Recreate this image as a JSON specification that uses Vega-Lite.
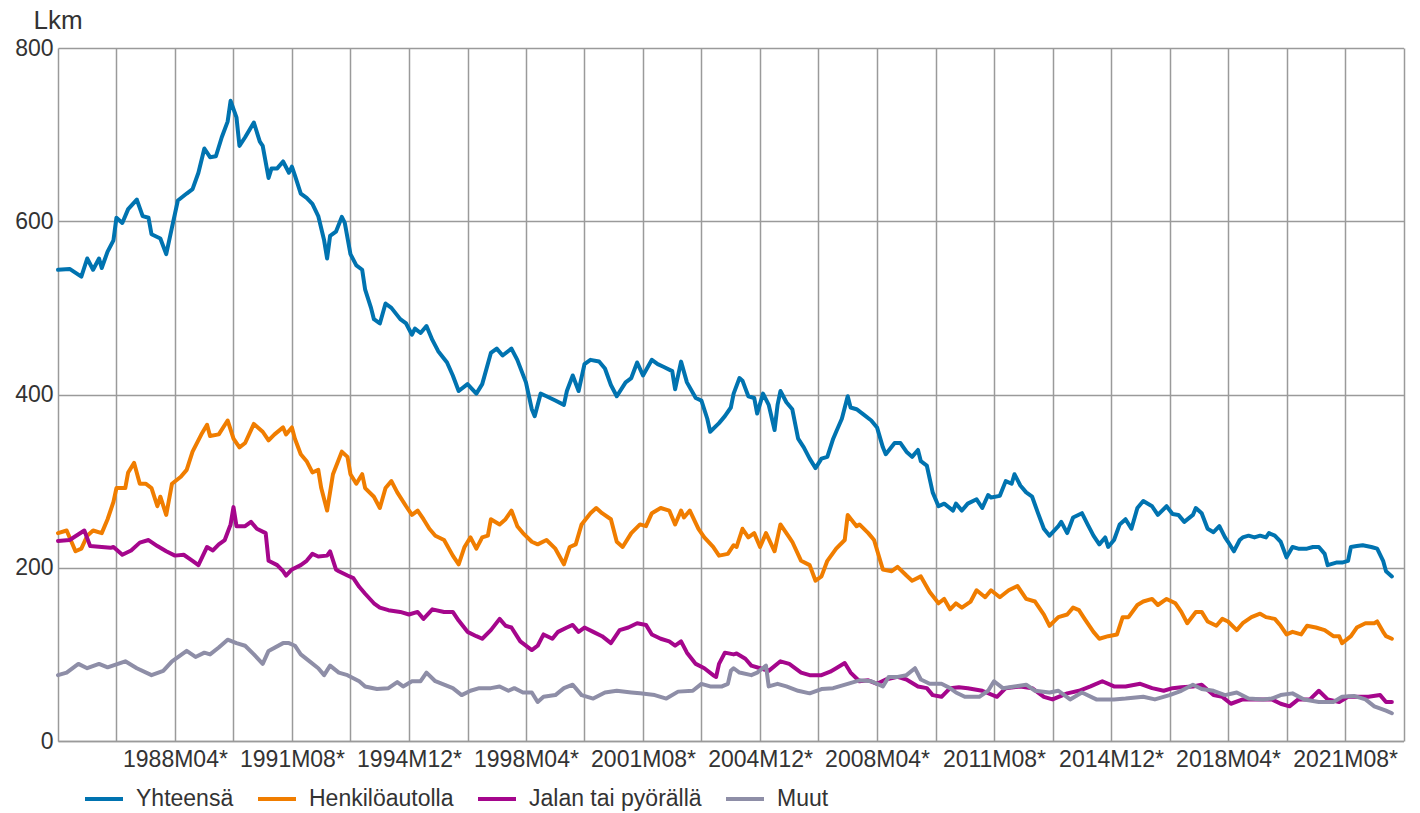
{
"$schema": "https://vega.github.io/schema/vega-lite/v6.json",
"width": 1345.5,
"height": 693,
"autosize": {"type": "none"},
"padding": {"left": 58, "top": 48, "right": 16, "bottom": 72},
"background": "white",
"data": {"values": [
{"kk":"1984-12","sarja":"Yhteensä","lkm":544},{"kk":"1985-04","sarja":"Yhteensä","lkm":545},{"kk":"1985-08","sarja":"Yhteensä","lkm":536},{"kk":"1985-10","sarja":"Yhteensä","lkm":557},{"kk":"1985-12","sarja":"Yhteensä","lkm":544},{"kk":"1986-02","sarja":"Yhteensä","lkm":557},{"kk":"1986-03","sarja":"Yhteensä","lkm":546},{"kk":"1986-05","sarja":"Yhteensä","lkm":565},{"kk":"1986-07","sarja":"Yhteensä","lkm":578},{"kk":"1986-08","sarja":"Yhteensä","lkm":604},{"kk":"1986-10","sarja":"Yhteensä","lkm":598},{"kk":"1986-12","sarja":"Yhteensä","lkm":614},{"kk":"1987-03","sarja":"Yhteensä","lkm":625},{"kk":"1987-05","sarja":"Yhteensä","lkm":606},{"kk":"1987-07","sarja":"Yhteensä","lkm":604},{"kk":"1987-08","sarja":"Yhteensä","lkm":585},{"kk":"1987-11","sarja":"Yhteensä","lkm":580},{"kk":"1988-01","sarja":"Yhteensä","lkm":562},{"kk":"1988-03","sarja":"Yhteensä","lkm":593},{"kk":"1988-05","sarja":"Yhteensä","lkm":624},{"kk":"1988-08","sarja":"Yhteensä","lkm":632},{"kk":"1988-10","sarja":"Yhteensä","lkm":637},{"kk":"1988-12","sarja":"Yhteensä","lkm":656},{"kk":"1989-02","sarja":"Yhteensä","lkm":684},{"kk":"1989-04","sarja":"Yhteensä","lkm":674},{"kk":"1989-06","sarja":"Yhteensä","lkm":675},{"kk":"1989-08","sarja":"Yhteensä","lkm":697},{"kk":"1989-10","sarja":"Yhteensä","lkm":715},{"kk":"1989-11","sarja":"Yhteensä","lkm":739},{"kk":"1990-01","sarja":"Yhteensä","lkm":720},{"kk":"1990-02","sarja":"Yhteensä","lkm":687},{"kk":"1990-04","sarja":"Yhteensä","lkm":697},{"kk":"1990-07","sarja":"Yhteensä","lkm":714},{"kk":"1990-09","sarja":"Yhteensä","lkm":692},{"kk":"1990-10","sarja":"Yhteensä","lkm":687},{"kk":"1990-12","sarja":"Yhteensä","lkm":650},{"kk":"1991-01","sarja":"Yhteensä","lkm":661},{"kk":"1991-03","sarja":"Yhteensä","lkm":661},{"kk":"1991-05","sarja":"Yhteensä","lkm":669},{"kk":"1991-07","sarja":"Yhteensä","lkm":656},{"kk":"1991-08","sarja":"Yhteensä","lkm":663},{"kk":"1991-09","sarja":"Yhteensä","lkm":653},{"kk":"1991-11","sarja":"Yhteensä","lkm":632},{"kk":"1992-01","sarja":"Yhteensä","lkm":627},{"kk":"1992-03","sarja":"Yhteensä","lkm":620},{"kk":"1992-05","sarja":"Yhteensä","lkm":606},{"kk":"1992-07","sarja":"Yhteensä","lkm":578},{"kk":"1992-08","sarja":"Yhteensä","lkm":557},{"kk":"1992-09","sarja":"Yhteensä","lkm":583},{"kk":"1992-11","sarja":"Yhteensä","lkm":588},{"kk":"1993-01","sarja":"Yhteensä","lkm":605},{"kk":"1993-02","sarja":"Yhteensä","lkm":598},{"kk":"1993-04","sarja":"Yhteensä","lkm":562},{"kk":"1993-06","sarja":"Yhteensä","lkm":549},{"kk":"1993-08","sarja":"Yhteensä","lkm":544},{"kk":"1993-09","sarja":"Yhteensä","lkm":521},{"kk":"1993-11","sarja":"Yhteensä","lkm":500},{"kk":"1993-12","sarja":"Yhteensä","lkm":487},{"kk":"1994-02","sarja":"Yhteensä","lkm":482},{"kk":"1994-04","sarja":"Yhteensä","lkm":505},{"kk":"1994-06","sarja":"Yhteensä","lkm":500},{"kk":"1994-09","sarja":"Yhteensä","lkm":487},{"kk":"1994-11","sarja":"Yhteensä","lkm":482},{"kk":"1995-01","sarja":"Yhteensä","lkm":469},{"kk":"1995-02","sarja":"Yhteensä","lkm":476},{"kk":"1995-04","sarja":"Yhteensä","lkm":471},{"kk":"1995-06","sarja":"Yhteensä","lkm":479},{"kk":"1995-08","sarja":"Yhteensä","lkm":463},{"kk":"1995-10","sarja":"Yhteensä","lkm":450},{"kk":"1996-01","sarja":"Yhteensä","lkm":437},{"kk":"1996-03","sarja":"Yhteensä","lkm":422},{"kk":"1996-05","sarja":"Yhteensä","lkm":404},{"kk":"1996-08","sarja":"Yhteensä","lkm":412},{"kk":"1996-11","sarja":"Yhteensä","lkm":401},{"kk":"1997-01","sarja":"Yhteensä","lkm":412},{"kk":"1997-04","sarja":"Yhteensä","lkm":448},{"kk":"1997-06","sarja":"Yhteensä","lkm":453},{"kk":"1997-08","sarja":"Yhteensä","lkm":445},{"kk":"1997-11","sarja":"Yhteensä","lkm":453},{"kk":"1998-01","sarja":"Yhteensä","lkm":440},{"kk":"1998-04","sarja":"Yhteensä","lkm":414},{"kk":"1998-06","sarja":"Yhteensä","lkm":383},{"kk":"1998-07","sarja":"Yhteensä","lkm":375},{"kk":"1998-09","sarja":"Yhteensä","lkm":401},{"kk":"1998-11","sarja":"Yhteensä","lkm":398},{"kk":"1999-02","sarja":"Yhteensä","lkm":393},{"kk":"1999-05","sarja":"Yhteensä","lkm":388},{"kk":"1999-06","sarja":"Yhteensä","lkm":404},{"kk":"1999-08","sarja":"Yhteensä","lkm":422},{"kk":"1999-10","sarja":"Yhteensä","lkm":404},{"kk":"1999-12","sarja":"Yhteensä","lkm":435},{"kk":"2000-02","sarja":"Yhteensä","lkm":440},{"kk":"2000-05","sarja":"Yhteensä","lkm":438},{"kk":"2000-07","sarja":"Yhteensä","lkm":430},{"kk":"2000-09","sarja":"Yhteensä","lkm":411},{"kk":"2000-11","sarja":"Yhteensä","lkm":398},{"kk":"2001-02","sarja":"Yhteensä","lkm":414},{"kk":"2001-04","sarja":"Yhteensä","lkm":419},{"kk":"2001-06","sarja":"Yhteensä","lkm":437},{"kk":"2001-08","sarja":"Yhteensä","lkm":422},{"kk":"2001-11","sarja":"Yhteensä","lkm":440},{"kk":"2002-01","sarja":"Yhteensä","lkm":435},{"kk":"2002-03","sarja":"Yhteensä","lkm":432},{"kk":"2002-06","sarja":"Yhteensä","lkm":427},{"kk":"2002-07","sarja":"Yhteensä","lkm":406},{"kk":"2002-09","sarja":"Yhteensä","lkm":438},{"kk":"2002-11","sarja":"Yhteensä","lkm":414},{"kk":"2003-02","sarja":"Yhteensä","lkm":396},{"kk":"2003-04","sarja":"Yhteensä","lkm":393},{"kk":"2003-06","sarja":"Yhteensä","lkm":372},{"kk":"2003-07","sarja":"Yhteensä","lkm":357},{"kk":"2003-10","sarja":"Yhteensä","lkm":367},{"kk":"2003-12","sarja":"Yhteensä","lkm":375},{"kk":"2004-02","sarja":"Yhteensä","lkm":385},{"kk":"2004-03","sarja":"Yhteensä","lkm":401},{"kk":"2004-05","sarja":"Yhteensä","lkm":419},{"kk":"2004-06","sarja":"Yhteensä","lkm":416},{"kk":"2004-08","sarja":"Yhteensä","lkm":398},{"kk":"2004-10","sarja":"Yhteensä","lkm":396},{"kk":"2004-11","sarja":"Yhteensä","lkm":378},{"kk":"2005-01","sarja":"Yhteensä","lkm":401},{"kk":"2005-03","sarja":"Yhteensä","lkm":388},{"kk":"2005-05","sarja":"Yhteensä","lkm":359},{"kk":"2005-06","sarja":"Yhteensä","lkm":388},{"kk":"2005-07","sarja":"Yhteensä","lkm":404},{"kk":"2005-09","sarja":"Yhteensä","lkm":391},{"kk":"2005-11","sarja":"Yhteensä","lkm":383},{"kk":"2006-01","sarja":"Yhteensä","lkm":349},{"kk":"2006-03","sarja":"Yhteensä","lkm":339},{"kk":"2006-05","sarja":"Yhteensä","lkm":326},{"kk":"2006-07","sarja":"Yhteensä","lkm":315},{"kk":"2006-09","sarja":"Yhteensä","lkm":326},{"kk":"2006-11","sarja":"Yhteensä","lkm":328},{"kk":"2007-01","sarja":"Yhteensä","lkm":349},{"kk":"2007-02","sarja":"Yhteensä","lkm":357},{"kk":"2007-04","sarja":"Yhteensä","lkm":372},{"kk":"2007-06","sarja":"Yhteensä","lkm":398},{"kk":"2007-07","sarja":"Yhteensä","lkm":385},{"kk":"2007-09","sarja":"Yhteensä","lkm":383},{"kk":"2007-11","sarja":"Yhteensä","lkm":378},{"kk":"2008-02","sarja":"Yhteensä","lkm":370},{"kk":"2008-04","sarja":"Yhteensä","lkm":362},{"kk":"2008-06","sarja":"Yhteensä","lkm":339},{"kk":"2008-07","sarja":"Yhteensä","lkm":331},{"kk":"2008-10","sarja":"Yhteensä","lkm":344},{"kk":"2008-12","sarja":"Yhteensä","lkm":344},{"kk":"2009-02","sarja":"Yhteensä","lkm":334},{"kk":"2009-04","sarja":"Yhteensä","lkm":328},{"kk":"2009-06","sarja":"Yhteensä","lkm":336},{"kk":"2009-07","sarja":"Yhteensä","lkm":323},{"kk":"2009-09","sarja":"Yhteensä","lkm":318},{"kk":"2009-11","sarja":"Yhteensä","lkm":287},{"kk":"2010-01","sarja":"Yhteensä","lkm":271},{"kk":"2010-03","sarja":"Yhteensä","lkm":274},{"kk":"2010-06","sarja":"Yhteensä","lkm":266},{"kk":"2010-07","sarja":"Yhteensä","lkm":274},{"kk":"2010-09","sarja":"Yhteensä","lkm":266},{"kk":"2010-11","sarja":"Yhteensä","lkm":274},{"kk":"2011-02","sarja":"Yhteensä","lkm":279},{"kk":"2011-04","sarja":"Yhteensä","lkm":269},{"kk":"2011-06","sarja":"Yhteensä","lkm":284},{"kk":"2011-07","sarja":"Yhteensä","lkm":281},{"kk":"2011-10","sarja":"Yhteensä","lkm":283},{"kk":"2011-12","sarja":"Yhteensä","lkm":300},{"kk":"2012-02","sarja":"Yhteensä","lkm":297},{"kk":"2012-03","sarja":"Yhteensä","lkm":308},{"kk":"2012-05","sarja":"Yhteensä","lkm":295},{"kk":"2012-07","sarja":"Yhteensä","lkm":287},{"kk":"2012-09","sarja":"Yhteensä","lkm":282},{"kk":"2012-11","sarja":"Yhteensä","lkm":263},{"kk":"2013-01","sarja":"Yhteensä","lkm":245},{"kk":"2013-03","sarja":"Yhteensä","lkm":237},{"kk":"2013-06","sarja":"Yhteensä","lkm":248},{"kk":"2013-07","sarja":"Yhteensä","lkm":253},{"kk":"2013-09","sarja":"Yhteensä","lkm":240},{"kk":"2013-11","sarja":"Yhteensä","lkm":258},{"kk":"2014-02","sarja":"Yhteensä","lkm":263},{"kk":"2014-04","sarja":"Yhteensä","lkm":250},{"kk":"2014-06","sarja":"Yhteensä","lkm":237},{"kk":"2014-08","sarja":"Yhteensä","lkm":227},{"kk":"2014-10","sarja":"Yhteensä","lkm":235},{"kk":"2014-11","sarja":"Yhteensä","lkm":224},{"kk":"2015-01","sarja":"Yhteensä","lkm":232},{"kk":"2015-03","sarja":"Yhteensä","lkm":250},{"kk":"2015-05","sarja":"Yhteensä","lkm":256},{"kk":"2015-07","sarja":"Yhteensä","lkm":245},{"kk":"2015-09","sarja":"Yhteensä","lkm":269},{"kk":"2015-11","sarja":"Yhteensä","lkm":277},{"kk":"2016-02","sarja":"Yhteensä","lkm":271},{"kk":"2016-04","sarja":"Yhteensä","lkm":261},{"kk":"2016-07","sarja":"Yhteensä","lkm":271},{"kk":"2016-09","sarja":"Yhteensä","lkm":262},{"kk":"2016-11","sarja":"Yhteensä","lkm":261},{"kk":"2017-01","sarja":"Yhteensä","lkm":253},{"kk":"2017-04","sarja":"Yhteensä","lkm":261},{"kk":"2017-05","sarja":"Yhteensä","lkm":269},{"kk":"2017-07","sarja":"Yhteensä","lkm":263},{"kk":"2017-09","sarja":"Yhteensä","lkm":245},{"kk":"2017-11","sarja":"Yhteensä","lkm":241},{"kk":"2018-01","sarja":"Yhteensä","lkm":248},{"kk":"2018-03","sarja":"Yhteensä","lkm":235},{"kk":"2018-04","sarja":"Yhteensä","lkm":230},{"kk":"2018-06","sarja":"Yhteensä","lkm":219},{"kk":"2018-08","sarja":"Yhteensä","lkm":232},{"kk":"2018-09","sarja":"Yhteensä","lkm":235},{"kk":"2018-11","sarja":"Yhteensä","lkm":237},{"kk":"2019-01","sarja":"Yhteensä","lkm":235},{"kk":"2019-03","sarja":"Yhteensä","lkm":237},{"kk":"2019-05","sarja":"Yhteensä","lkm":235},{"kk":"2019-06","sarja":"Yhteensä","lkm":240},{"kk":"2019-08","sarja":"Yhteensä","lkm":237},{"kk":"2019-10","sarja":"Yhteensä","lkm":230},{"kk":"2019-12","sarja":"Yhteensä","lkm":212},{"kk":"2020-02","sarja":"Yhteensä","lkm":224},{"kk":"2020-04","sarja":"Yhteensä","lkm":222},{"kk":"2020-07","sarja":"Yhteensä","lkm":222},{"kk":"2020-09","sarja":"Yhteensä","lkm":224},{"kk":"2020-11","sarja":"Yhteensä","lkm":224},{"kk":"2021-01","sarja":"Yhteensä","lkm":216},{"kk":"2021-02","sarja":"Yhteensä","lkm":203},{"kk":"2021-05","sarja":"Yhteensä","lkm":206},{"kk":"2021-07","sarja":"Yhteensä","lkm":206},{"kk":"2021-09","sarja":"Yhteensä","lkm":208},{"kk":"2021-10","sarja":"Yhteensä","lkm":224},{"kk":"2021-12","sarja":"Yhteensä","lkm":225},{"kk":"2022-02","sarja":"Yhteensä","lkm":226},{"kk":"2022-05","sarja":"Yhteensä","lkm":224},{"kk":"2022-07","sarja":"Yhteensä","lkm":222},{"kk":"2022-09","sarja":"Yhteensä","lkm":208},{"kk":"2022-10","sarja":"Yhteensä","lkm":196},{"kk":"2022-12","sarja":"Yhteensä","lkm":190},
{"kk":"1984-12","sarja":"Henkilöautolla","lkm":240},{"kk":"1985-03","sarja":"Henkilöautolla","lkm":243},{"kk":"1985-06","sarja":"Henkilöautolla","lkm":219},{"kk":"1985-08","sarja":"Henkilöautolla","lkm":222},{"kk":"1985-10","sarja":"Henkilöautolla","lkm":237},{"kk":"1985-12","sarja":"Henkilöautolla","lkm":243},{"kk":"1986-03","sarja":"Henkilöautolla","lkm":240},{"kk":"1986-05","sarja":"Henkilöautolla","lkm":256},{"kk":"1986-07","sarja":"Henkilöautolla","lkm":276},{"kk":"1986-08","sarja":"Henkilöautolla","lkm":292},{"kk":"1986-11","sarja":"Henkilöautolla","lkm":292},{"kk":"1986-12","sarja":"Henkilöautolla","lkm":310},{"kk":"1987-02","sarja":"Henkilöautolla","lkm":321},{"kk":"1987-04","sarja":"Henkilöautolla","lkm":297},{"kk":"1987-06","sarja":"Henkilöautolla","lkm":297},{"kk":"1987-08","sarja":"Henkilöautolla","lkm":292},{"kk":"1987-10","sarja":"Henkilöautolla","lkm":271},{"kk":"1987-11","sarja":"Henkilöautolla","lkm":282},{"kk":"1988-01","sarja":"Henkilöautolla","lkm":261},{"kk":"1988-03","sarja":"Henkilöautolla","lkm":297},{"kk":"1988-06","sarja":"Henkilöautolla","lkm":305},{"kk":"1988-08","sarja":"Henkilöautolla","lkm":313},{"kk":"1988-10","sarja":"Henkilöautolla","lkm":334},{"kk":"1989-01","sarja":"Henkilöautolla","lkm":354},{"kk":"1989-03","sarja":"Henkilöautolla","lkm":365},{"kk":"1989-04","sarja":"Henkilöautolla","lkm":352},{"kk":"1989-07","sarja":"Henkilöautolla","lkm":354},{"kk":"1989-10","sarja":"Henkilöautolla","lkm":370},{"kk":"1989-12","sarja":"Henkilöautolla","lkm":349},{"kk":"1990-02","sarja":"Henkilöautolla","lkm":339},{"kk":"1990-04","sarja":"Henkilöautolla","lkm":344},{"kk":"1990-07","sarja":"Henkilöautolla","lkm":366},{"kk":"1990-10","sarja":"Henkilöautolla","lkm":357},{"kk":"1990-12","sarja":"Henkilöautolla","lkm":347},{"kk":"1991-02","sarja":"Henkilöautolla","lkm":354},{"kk":"1991-05","sarja":"Henkilöautolla","lkm":362},{"kk":"1991-06","sarja":"Henkilöautolla","lkm":354},{"kk":"1991-08","sarja":"Henkilöautolla","lkm":362},{"kk":"1991-09","sarja":"Henkilöautolla","lkm":349},{"kk":"1991-11","sarja":"Henkilöautolla","lkm":331},{"kk":"1992-01","sarja":"Henkilöautolla","lkm":323},{"kk":"1992-03","sarja":"Henkilöautolla","lkm":310},{"kk":"1992-05","sarja":"Henkilöautolla","lkm":313},{"kk":"1992-06","sarja":"Henkilöautolla","lkm":292},{"kk":"1992-08","sarja":"Henkilöautolla","lkm":266},{"kk":"1992-10","sarja":"Henkilöautolla","lkm":308},{"kk":"1993-01","sarja":"Henkilöautolla","lkm":334},{"kk":"1993-03","sarja":"Henkilöautolla","lkm":328},{"kk":"1993-04","sarja":"Henkilöautolla","lkm":308},{"kk":"1993-06","sarja":"Henkilöautolla","lkm":297},{"kk":"1993-08","sarja":"Henkilöautolla","lkm":308},{"kk":"1993-09","sarja":"Henkilöautolla","lkm":292},{"kk":"1993-12","sarja":"Henkilöautolla","lkm":282},{"kk":"1994-02","sarja":"Henkilöautolla","lkm":269},{"kk":"1994-04","sarja":"Henkilöautolla","lkm":292},{"kk":"1994-06","sarja":"Henkilöautolla","lkm":300},{"kk":"1994-08","sarja":"Henkilöautolla","lkm":287},{"kk":"1994-11","sarja":"Henkilöautolla","lkm":271},{"kk":"1995-01","sarja":"Henkilöautolla","lkm":261},{"kk":"1995-03","sarja":"Henkilöautolla","lkm":266},{"kk":"1995-05","sarja":"Henkilöautolla","lkm":256},{"kk":"1995-07","sarja":"Henkilöautolla","lkm":245},{"kk":"1995-09","sarja":"Henkilöautolla","lkm":237},{"kk":"1995-12","sarja":"Henkilöautolla","lkm":232},{"kk":"1996-03","sarja":"Henkilöautolla","lkm":214},{"kk":"1996-05","sarja":"Henkilöautolla","lkm":204},{"kk":"1996-07","sarja":"Henkilöautolla","lkm":224},{"kk":"1996-09","sarja":"Henkilöautolla","lkm":235},{"kk":"1996-11","sarja":"Henkilöautolla","lkm":222},{"kk":"1997-01","sarja":"Henkilöautolla","lkm":235},{"kk":"1997-03","sarja":"Henkilöautolla","lkm":237},{"kk":"1997-04","sarja":"Henkilöautolla","lkm":256},{"kk":"1997-07","sarja":"Henkilöautolla","lkm":250},{"kk":"1997-09","sarja":"Henkilöautolla","lkm":256},{"kk":"1997-11","sarja":"Henkilöautolla","lkm":266},{"kk":"1998-01","sarja":"Henkilöautolla","lkm":248},{"kk":"1998-03","sarja":"Henkilöautolla","lkm":240},{"kk":"1998-06","sarja":"Henkilöautolla","lkm":230},{"kk":"1998-08","sarja":"Henkilöautolla","lkm":227},{"kk":"1998-11","sarja":"Henkilöautolla","lkm":232},{"kk":"1999-02","sarja":"Henkilöautolla","lkm":222},{"kk":"1999-05","sarja":"Henkilöautolla","lkm":204},{"kk":"1999-07","sarja":"Henkilöautolla","lkm":224},{"kk":"1999-09","sarja":"Henkilöautolla","lkm":227},{"kk":"1999-11","sarja":"Henkilöautolla","lkm":250},{"kk":"2000-02","sarja":"Henkilöautolla","lkm":263},{"kk":"2000-04","sarja":"Henkilöautolla","lkm":269},{"kk":"2000-06","sarja":"Henkilöautolla","lkm":263},{"kk":"2000-09","sarja":"Henkilöautolla","lkm":256},{"kk":"2000-11","sarja":"Henkilöautolla","lkm":230},{"kk":"2001-01","sarja":"Henkilöautolla","lkm":224},{"kk":"2001-04","sarja":"Henkilöautolla","lkm":240},{"kk":"2001-07","sarja":"Henkilöautolla","lkm":250},{"kk":"2001-09","sarja":"Henkilöautolla","lkm":248},{"kk":"2001-11","sarja":"Henkilöautolla","lkm":263},{"kk":"2002-02","sarja":"Henkilöautolla","lkm":269},{"kk":"2002-05","sarja":"Henkilöautolla","lkm":266},{"kk":"2002-07","sarja":"Henkilöautolla","lkm":250},{"kk":"2002-09","sarja":"Henkilöautolla","lkm":266},{"kk":"2002-10","sarja":"Henkilöautolla","lkm":258},{"kk":"2002-12","sarja":"Henkilöautolla","lkm":266},{"kk":"2003-03","sarja":"Henkilöautolla","lkm":245},{"kk":"2003-05","sarja":"Henkilöautolla","lkm":235},{"kk":"2003-08","sarja":"Henkilöautolla","lkm":224},{"kk":"2003-10","sarja":"Henkilöautolla","lkm":214},{"kk":"2004-01","sarja":"Henkilöautolla","lkm":216},{"kk":"2004-03","sarja":"Henkilöautolla","lkm":226},{"kk":"2004-04","sarja":"Henkilöautolla","lkm":224},{"kk":"2004-06","sarja":"Henkilöautolla","lkm":245},{"kk":"2004-08","sarja":"Henkilöautolla","lkm":235},{"kk":"2004-10","sarja":"Henkilöautolla","lkm":240},{"kk":"2004-12","sarja":"Henkilöautolla","lkm":224},{"kk":"2005-02","sarja":"Henkilöautolla","lkm":240},{"kk":"2005-05","sarja":"Henkilöautolla","lkm":219},{"kk":"2005-07","sarja":"Henkilöautolla","lkm":250},{"kk":"2005-10","sarja":"Henkilöautolla","lkm":235},{"kk":"2005-11","sarja":"Henkilöautolla","lkm":230},{"kk":"2006-02","sarja":"Henkilöautolla","lkm":208},{"kk":"2006-05","sarja":"Henkilöautolla","lkm":203},{"kk":"2006-07","sarja":"Henkilöautolla","lkm":185},{"kk":"2006-09","sarja":"Henkilöautolla","lkm":190},{"kk":"2006-11","sarja":"Henkilöautolla","lkm":208},{"kk":"2007-02","sarja":"Henkilöautolla","lkm":222},{"kk":"2007-05","sarja":"Henkilöautolla","lkm":232},{"kk":"2007-06","sarja":"Henkilöautolla","lkm":261},{"kk":"2007-09","sarja":"Henkilöautolla","lkm":248},{"kk":"2007-10","sarja":"Henkilöautolla","lkm":250},{"kk":"2008-01","sarja":"Henkilöautolla","lkm":240},{"kk":"2008-03","sarja":"Henkilöautolla","lkm":232},{"kk":"2008-06","sarja":"Henkilöautolla","lkm":198},{"kk":"2008-09","sarja":"Henkilöautolla","lkm":196},{"kk":"2008-11","sarja":"Henkilöautolla","lkm":201},{"kk":"2009-02","sarja":"Henkilöautolla","lkm":191},{"kk":"2009-04","sarja":"Henkilöautolla","lkm":185},{"kk":"2009-07","sarja":"Henkilöautolla","lkm":190},{"kk":"2009-10","sarja":"Henkilöautolla","lkm":172},{"kk":"2010-01","sarja":"Henkilöautolla","lkm":159},{"kk":"2010-03","sarja":"Henkilöautolla","lkm":164},{"kk":"2010-05","sarja":"Henkilöautolla","lkm":152},{"kk":"2010-07","sarja":"Henkilöautolla","lkm":159},{"kk":"2010-09","sarja":"Henkilöautolla","lkm":154},{"kk":"2010-12","sarja":"Henkilöautolla","lkm":161},{"kk":"2011-02","sarja":"Henkilöautolla","lkm":174},{"kk":"2011-05","sarja":"Henkilöautolla","lkm":166},{"kk":"2011-07","sarja":"Henkilöautolla","lkm":174},{"kk":"2011-10","sarja":"Henkilöautolla","lkm":166},{"kk":"2012-01","sarja":"Henkilöautolla","lkm":174},{"kk":"2012-04","sarja":"Henkilöautolla","lkm":179},{"kk":"2012-07","sarja":"Henkilöautolla","lkm":164},{"kk":"2012-10","sarja":"Henkilöautolla","lkm":161},{"kk":"2013-01","sarja":"Henkilöautolla","lkm":146},{"kk":"2013-03","sarja":"Henkilöautolla","lkm":133},{"kk":"2013-06","sarja":"Henkilöautolla","lkm":143},{"kk":"2013-09","sarja":"Henkilöautolla","lkm":146},{"kk":"2013-11","sarja":"Henkilöautolla","lkm":154},{"kk":"2014-01","sarja":"Henkilöautolla","lkm":151},{"kk":"2014-03","sarja":"Henkilöautolla","lkm":141},{"kk":"2014-06","sarja":"Henkilöautolla","lkm":126},{"kk":"2014-08","sarja":"Henkilöautolla","lkm":118},{"kk":"2014-11","sarja":"Henkilöautolla","lkm":121},{"kk":"2015-02","sarja":"Henkilöautolla","lkm":123},{"kk":"2015-04","sarja":"Henkilöautolla","lkm":143},{"kk":"2015-06","sarja":"Henkilöautolla","lkm":143},{"kk":"2015-09","sarja":"Henkilöautolla","lkm":157},{"kk":"2015-11","sarja":"Henkilöautolla","lkm":161},{"kk":"2016-02","sarja":"Henkilöautolla","lkm":164},{"kk":"2016-04","sarja":"Henkilöautolla","lkm":157},{"kk":"2016-07","sarja":"Henkilöautolla","lkm":164},{"kk":"2016-10","sarja":"Henkilöautolla","lkm":159},{"kk":"2016-12","sarja":"Henkilöautolla","lkm":149},{"kk":"2017-02","sarja":"Henkilöautolla","lkm":136},{"kk":"2017-05","sarja":"Henkilöautolla","lkm":149},{"kk":"2017-07","sarja":"Henkilöautolla","lkm":149},{"kk":"2017-09","sarja":"Henkilöautolla","lkm":138},{"kk":"2017-12","sarja":"Henkilöautolla","lkm":133},{"kk":"2018-02","sarja":"Henkilöautolla","lkm":141},{"kk":"2018-04","sarja":"Henkilöautolla","lkm":138},{"kk":"2018-07","sarja":"Henkilöautolla","lkm":128},{"kk":"2018-09","sarja":"Henkilöautolla","lkm":136},{"kk":"2018-12","sarja":"Henkilöautolla","lkm":143},{"kk":"2019-03","sarja":"Henkilöautolla","lkm":147},{"kk":"2019-05","sarja":"Henkilöautolla","lkm":143},{"kk":"2019-08","sarja":"Henkilöautolla","lkm":141},{"kk":"2019-10","sarja":"Henkilöautolla","lkm":133},{"kk":"2019-12","sarja":"Henkilöautolla","lkm":123},{"kk":"2020-02","sarja":"Henkilöautolla","lkm":126},{"kk":"2020-05","sarja":"Henkilöautolla","lkm":123},{"kk":"2020-07","sarja":"Henkilöautolla","lkm":133},{"kk":"2020-10","sarja":"Henkilöautolla","lkm":131},{"kk":"2021-01","sarja":"Henkilöautolla","lkm":128},{"kk":"2021-04","sarja":"Henkilöautolla","lkm":121},{"kk":"2021-06","sarja":"Henkilöautolla","lkm":121},{"kk":"2021-07","sarja":"Henkilöautolla","lkm":113},{"kk":"2021-10","sarja":"Henkilöautolla","lkm":121},{"kk":"2021-12","sarja":"Henkilöautolla","lkm":131},{"kk":"2022-03","sarja":"Henkilöautolla","lkm":136},{"kk":"2022-06","sarja":"Henkilöautolla","lkm":136},{"kk":"2022-07","sarja":"Henkilöautolla","lkm":138},{"kk":"2022-09","sarja":"Henkilöautolla","lkm":126},{"kk":"2022-10","sarja":"Henkilöautolla","lkm":121},{"kk":"2022-12","sarja":"Henkilöautolla","lkm":118},
{"kk":"1984-12","sarja":"Jalan tai pyörällä","lkm":231},{"kk":"1985-04","sarja":"Jalan tai pyörällä","lkm":232},{"kk":"1985-09","sarja":"Jalan tai pyörällä","lkm":243},{"kk":"1985-11","sarja":"Jalan tai pyörällä","lkm":225},{"kk":"1986-03","sarja":"Jalan tai pyörällä","lkm":224},{"kk":"1986-06","sarja":"Jalan tai pyörällä","lkm":223},{"kk":"1986-07","sarja":"Jalan tai pyörällä","lkm":224},{"kk":"1986-10","sarja":"Jalan tai pyörällä","lkm":215},{"kk":"1987-01","sarja":"Jalan tai pyörällä","lkm":220},{"kk":"1987-04","sarja":"Jalan tai pyörällä","lkm":229},{"kk":"1987-07","sarja":"Jalan tai pyörällä","lkm":232},{"kk":"1987-10","sarja":"Jalan tai pyörällä","lkm":225},{"kk":"1988-01","sarja":"Jalan tai pyörällä","lkm":219},{"kk":"1988-04","sarja":"Jalan tai pyörällä","lkm":214},{"kk":"1988-07","sarja":"Jalan tai pyörällä","lkm":215},{"kk":"1988-10","sarja":"Jalan tai pyörällä","lkm":208},{"kk":"1988-12","sarja":"Jalan tai pyörällä","lkm":203},{"kk":"1989-03","sarja":"Jalan tai pyörällä","lkm":224},{"kk":"1989-05","sarja":"Jalan tai pyörällä","lkm":220},{"kk":"1989-07","sarja":"Jalan tai pyörällä","lkm":227},{"kk":"1989-09","sarja":"Jalan tai pyörällä","lkm":232},{"kk":"1989-11","sarja":"Jalan tai pyörällä","lkm":250},{"kk":"1989-12","sarja":"Jalan tai pyörällä","lkm":270},{"kk":"1990-01","sarja":"Jalan tai pyörällä","lkm":248},{"kk":"1990-04","sarja":"Jalan tai pyörällä","lkm":248},{"kk":"1990-06","sarja":"Jalan tai pyörällä","lkm":253},{"kk":"1990-08","sarja":"Jalan tai pyörällä","lkm":245},{"kk":"1990-11","sarja":"Jalan tai pyörällä","lkm":240},{"kk":"1990-12","sarja":"Jalan tai pyörällä","lkm":208},{"kk":"1991-03","sarja":"Jalan tai pyörällä","lkm":203},{"kk":"1991-05","sarja":"Jalan tai pyörällä","lkm":196},{"kk":"1991-06","sarja":"Jalan tai pyörällä","lkm":191},{"kk":"1991-08","sarja":"Jalan tai pyörällä","lkm":198},{"kk":"1991-11","sarja":"Jalan tai pyörällä","lkm":203},{"kk":"1992-01","sarja":"Jalan tai pyörällä","lkm":208},{"kk":"1992-03","sarja":"Jalan tai pyörällä","lkm":216},{"kk":"1992-05","sarja":"Jalan tai pyörällä","lkm":213},{"kk":"1992-08","sarja":"Jalan tai pyörällä","lkm":214},{"kk":"1992-09","sarja":"Jalan tai pyörällä","lkm":219},{"kk":"1992-11","sarja":"Jalan tai pyörällä","lkm":198},{"kk":"1992-12","sarja":"Jalan tai pyörällä","lkm":196},{"kk":"1993-03","sarja":"Jalan tai pyörällä","lkm":191},{"kk":"1993-05","sarja":"Jalan tai pyörällä","lkm":188},{"kk":"1993-07","sarja":"Jalan tai pyörällä","lkm":178},{"kk":"1993-09","sarja":"Jalan tai pyörällä","lkm":170},{"kk":"1993-12","sarja":"Jalan tai pyörällä","lkm":159},{"kk":"1994-02","sarja":"Jalan tai pyörällä","lkm":154},{"kk":"1994-05","sarja":"Jalan tai pyörällä","lkm":151},{"kk":"1994-09","sarja":"Jalan tai pyörällä","lkm":149},{"kk":"1994-12","sarja":"Jalan tai pyörällä","lkm":146},{"kk":"1995-03","sarja":"Jalan tai pyörällä","lkm":149},{"kk":"1995-05","sarja":"Jalan tai pyörällä","lkm":141},{"kk":"1995-08","sarja":"Jalan tai pyörällä","lkm":152},{"kk":"1995-12","sarja":"Jalan tai pyörällä","lkm":149},{"kk":"1996-03","sarja":"Jalan tai pyörällä","lkm":149},{"kk":"1996-05","sarja":"Jalan tai pyörällä","lkm":139},{"kk":"1996-08","sarja":"Jalan tai pyörällä","lkm":126},{"kk":"1996-11","sarja":"Jalan tai pyörällä","lkm":121},{"kk":"1997-01","sarja":"Jalan tai pyörällä","lkm":118},{"kk":"1997-04","sarja":"Jalan tai pyörällä","lkm":128},{"kk":"1997-07","sarja":"Jalan tai pyörällä","lkm":141},{"kk":"1997-09","sarja":"Jalan tai pyörällä","lkm":133},{"kk":"1997-11","sarja":"Jalan tai pyörällä","lkm":131},{"kk":"1998-02","sarja":"Jalan tai pyörällä","lkm":115},{"kk":"1998-06","sarja":"Jalan tai pyörällä","lkm":105},{"kk":"1998-08","sarja":"Jalan tai pyörällä","lkm":110},{"kk":"1998-10","sarja":"Jalan tai pyörällä","lkm":123},{"kk":"1999-01","sarja":"Jalan tai pyörällä","lkm":118},{"kk":"1999-03","sarja":"Jalan tai pyörällä","lkm":126},{"kk":"1999-06","sarja":"Jalan tai pyörällä","lkm":131},{"kk":"1999-08","sarja":"Jalan tai pyörällä","lkm":134},{"kk":"1999-10","sarja":"Jalan tai pyörällä","lkm":126},{"kk":"1999-12","sarja":"Jalan tai pyörällä","lkm":131},{"kk":"2000-03","sarja":"Jalan tai pyörällä","lkm":126},{"kk":"2000-06","sarja":"Jalan tai pyörällä","lkm":121},{"kk":"2000-09","sarja":"Jalan tai pyörällä","lkm":113},{"kk":"2000-12","sarja":"Jalan tai pyörällä","lkm":128},{"kk":"2001-03","sarja":"Jalan tai pyörällä","lkm":131},{"kk":"2001-06","sarja":"Jalan tai pyörällä","lkm":136},{"kk":"2001-09","sarja":"Jalan tai pyörällä","lkm":134},{"kk":"2001-11","sarja":"Jalan tai pyörällä","lkm":123},{"kk":"2002-02","sarja":"Jalan tai pyörällä","lkm":118},{"kk":"2002-05","sarja":"Jalan tai pyörällä","lkm":115},{"kk":"2002-07","sarja":"Jalan tai pyörällä","lkm":110},{"kk":"2002-09","sarja":"Jalan tai pyörällä","lkm":115},{"kk":"2002-11","sarja":"Jalan tai pyörällä","lkm":102},{"kk":"2003-02","sarja":"Jalan tai pyörällä","lkm":89},{"kk":"2003-05","sarja":"Jalan tai pyörällä","lkm":84},{"kk":"2003-08","sarja":"Jalan tai pyörällä","lkm":76},{"kk":"2003-09","sarja":"Jalan tai pyörällä","lkm":74},{"kk":"2003-10","sarja":"Jalan tai pyörällä","lkm":89},{"kk":"2003-12","sarja":"Jalan tai pyörällä","lkm":102},{"kk":"2004-03","sarja":"Jalan tai pyörällä","lkm":100},{"kk":"2004-04","sarja":"Jalan tai pyörällä","lkm":101},{"kk":"2004-07","sarja":"Jalan tai pyörällä","lkm":95},{"kk":"2004-09","sarja":"Jalan tai pyörällä","lkm":87},{"kk":"2004-12","sarja":"Jalan tai pyörällä","lkm":84},{"kk":"2005-03","sarja":"Jalan tai pyörällä","lkm":81},{"kk":"2005-07","sarja":"Jalan tai pyörällä","lkm":92},{"kk":"2005-10","sarja":"Jalan tai pyörällä","lkm":89},{"kk":"2006-02","sarja":"Jalan tai pyörällä","lkm":79},{"kk":"2006-05","sarja":"Jalan tai pyörällä","lkm":76},{"kk":"2006-09","sarja":"Jalan tai pyörällä","lkm":76},{"kk":"2006-12","sarja":"Jalan tai pyörällä","lkm":80},{"kk":"2007-02","sarja":"Jalan tai pyörällä","lkm":84},{"kk":"2007-05","sarja":"Jalan tai pyörällä","lkm":90},{"kk":"2007-07","sarja":"Jalan tai pyörällä","lkm":79},{"kk":"2007-10","sarja":"Jalan tai pyörällä","lkm":69},{"kk":"2008-01","sarja":"Jalan tai pyörällä","lkm":70},{"kk":"2008-04","sarja":"Jalan tai pyörällä","lkm":66},{"kk":"2008-07","sarja":"Jalan tai pyörällä","lkm":71},{"kk":"2008-11","sarja":"Jalan tai pyörällä","lkm":74},{"kk":"2009-02","sarja":"Jalan tai pyörällä","lkm":71},{"kk":"2009-06","sarja":"Jalan tai pyörällä","lkm":63},{"kk":"2009-09","sarja":"Jalan tai pyörällä","lkm":61},{"kk":"2009-11","sarja":"Jalan tai pyörällä","lkm":53},{"kk":"2010-02","sarja":"Jalan tai pyörällä","lkm":51},{"kk":"2010-05","sarja":"Jalan tai pyörällä","lkm":61},{"kk":"2010-08","sarja":"Jalan tai pyörällä","lkm":62},{"kk":"2010-11","sarja":"Jalan tai pyörällä","lkm":61},{"kk":"2011-04","sarja":"Jalan tai pyörällä","lkm":58},{"kk":"2011-09","sarja":"Jalan tai pyörällä","lkm":51},{"kk":"2011-12","sarja":"Jalan tai pyörällä","lkm":61},{"kk":"2012-05","sarja":"Jalan tai pyörällä","lkm":63},{"kk":"2012-09","sarja":"Jalan tai pyörällä","lkm":61},{"kk":"2013-01","sarja":"Jalan tai pyörällä","lkm":51},{"kk":"2013-04","sarja":"Jalan tai pyörällä","lkm":48},{"kk":"2013-09","sarja":"Jalan tai pyörällä","lkm":55},{"kk":"2014-01","sarja":"Jalan tai pyörällä","lkm":58},{"kk":"2014-05","sarja":"Jalan tai pyörällä","lkm":63},{"kk":"2014-09","sarja":"Jalan tai pyörällä","lkm":69},{"kk":"2015-01","sarja":"Jalan tai pyörällä","lkm":63},{"kk":"2015-05","sarja":"Jalan tai pyörällä","lkm":63},{"kk":"2015-10","sarja":"Jalan tai pyörällä","lkm":66},{"kk":"2016-02","sarja":"Jalan tai pyörällä","lkm":61},{"kk":"2016-06","sarja":"Jalan tai pyörällä","lkm":58},{"kk":"2016-09","sarja":"Jalan tai pyörällä","lkm":61},{"kk":"2016-12","sarja":"Jalan tai pyörällä","lkm":62},{"kk":"2017-04","sarja":"Jalan tai pyörällä","lkm":63},{"kk":"2017-07","sarja":"Jalan tai pyörällä","lkm":65},{"kk":"2017-11","sarja":"Jalan tai pyörällä","lkm":53},{"kk":"2018-02","sarja":"Jalan tai pyörällä","lkm":51},{"kk":"2018-05","sarja":"Jalan tai pyörällä","lkm":43},{"kk":"2018-09","sarja":"Jalan tai pyörällä","lkm":48},{"kk":"2019-04","sarja":"Jalan tai pyörällä","lkm":48},{"kk":"2019-07","sarja":"Jalan tai pyörällä","lkm":48},{"kk":"2019-10","sarja":"Jalan tai pyörällä","lkm":43},{"kk":"2020-01","sarja":"Jalan tai pyörällä","lkm":40},{"kk":"2020-04","sarja":"Jalan tai pyörällä","lkm":48},{"kk":"2020-08","sarja":"Jalan tai pyörällä","lkm":48},{"kk":"2020-11","sarja":"Jalan tai pyörällä","lkm":58},{"kk":"2021-02","sarja":"Jalan tai pyörällä","lkm":48},{"kk":"2021-06","sarja":"Jalan tai pyörällä","lkm":45},{"kk":"2021-09","sarja":"Jalan tai pyörällä","lkm":51},{"kk":"2022-01","sarja":"Jalan tai pyörällä","lkm":51},{"kk":"2022-04","sarja":"Jalan tai pyörällä","lkm":51},{"kk":"2022-08","sarja":"Jalan tai pyörällä","lkm":53},{"kk":"2022-10","sarja":"Jalan tai pyörällä","lkm":45},{"kk":"2022-12","sarja":"Jalan tai pyörällä","lkm":45},
{"kk":"1984-12","sarja":"Muut","lkm":76},{"kk":"1985-03","sarja":"Muut","lkm":79},{"kk":"1985-07","sarja":"Muut","lkm":89},{"kk":"1985-10","sarja":"Muut","lkm":84},{"kk":"1986-02","sarja":"Muut","lkm":89},{"kk":"1986-05","sarja":"Muut","lkm":85},{"kk":"1986-11","sarja":"Muut","lkm":92},{"kk":"1987-03","sarja":"Muut","lkm":84},{"kk":"1987-08","sarja":"Muut","lkm":76},{"kk":"1987-12","sarja":"Muut","lkm":81},{"kk":"1988-03","sarja":"Muut","lkm":92},{"kk":"1988-08","sarja":"Muut","lkm":104},{"kk":"1988-11","sarja":"Muut","lkm":97},{"kk":"1989-02","sarja":"Muut","lkm":102},{"kk":"1989-04","sarja":"Muut","lkm":100},{"kk":"1989-07","sarja":"Muut","lkm":108},{"kk":"1989-10","sarja":"Muut","lkm":117},{"kk":"1990-01","sarja":"Muut","lkm":113},{"kk":"1990-04","sarja":"Muut","lkm":110},{"kk":"1990-07","sarja":"Muut","lkm":100},{"kk":"1990-10","sarja":"Muut","lkm":89},{"kk":"1990-12","sarja":"Muut","lkm":104},{"kk":"1991-05","sarja":"Muut","lkm":113},{"kk":"1991-07","sarja":"Muut","lkm":113},{"kk":"1991-09","sarja":"Muut","lkm":110},{"kk":"1991-11","sarja":"Muut","lkm":100},{"kk":"1992-02","sarja":"Muut","lkm":92},{"kk":"1992-05","sarja":"Muut","lkm":84},{"kk":"1992-07","sarja":"Muut","lkm":76},{"kk":"1992-09","sarja":"Muut","lkm":87},{"kk":"1992-12","sarja":"Muut","lkm":79},{"kk":"1993-03","sarja":"Muut","lkm":76},{"kk":"1993-07","sarja":"Muut","lkm":69},{"kk":"1993-09","sarja":"Muut","lkm":63},{"kk":"1994-01","sarja":"Muut","lkm":60},{"kk":"1994-05","sarja":"Muut","lkm":61},{"kk":"1994-08","sarja":"Muut","lkm":68},{"kk":"1994-10","sarja":"Muut","lkm":63},{"kk":"1995-01","sarja":"Muut","lkm":69},{"kk":"1995-04","sarja":"Muut","lkm":69},{"kk":"1995-06","sarja":"Muut","lkm":79},{"kk":"1995-09","sarja":"Muut","lkm":69},{"kk":"1995-12","sarja":"Muut","lkm":65},{"kk":"1996-03","sarja":"Muut","lkm":61},{"kk":"1996-06","sarja":"Muut","lkm":53},{"kk":"1996-09","sarja":"Muut","lkm":58},{"kk":"1996-12","sarja":"Muut","lkm":61},{"kk":"1997-04","sarja":"Muut","lkm":61},{"kk":"1997-07","sarja":"Muut","lkm":63},{"kk":"1997-10","sarja":"Muut","lkm":58},{"kk":"1997-12","sarja":"Muut","lkm":61},{"kk":"1998-03","sarja":"Muut","lkm":56},{"kk":"1998-06","sarja":"Muut","lkm":56},{"kk":"1998-08","sarja":"Muut","lkm":45},{"kk":"1998-10","sarja":"Muut","lkm":51},{"kk":"1999-02","sarja":"Muut","lkm":53},{"kk":"1999-05","sarja":"Muut","lkm":61},{"kk":"1999-08","sarja":"Muut","lkm":65},{"kk":"1999-11","sarja":"Muut","lkm":53},{"kk":"2000-03","sarja":"Muut","lkm":49},{"kk":"2000-07","sarja":"Muut","lkm":56},{"kk":"2000-11","sarja":"Muut","lkm":58},{"kk":"2001-04","sarja":"Muut","lkm":56},{"kk":"2001-07","sarja":"Muut","lkm":55},{"kk":"2001-12","sarja":"Muut","lkm":53},{"kk":"2002-04","sarja":"Muut","lkm":49},{"kk":"2002-08","sarja":"Muut","lkm":57},{"kk":"2003-01","sarja":"Muut","lkm":58},{"kk":"2003-04","sarja":"Muut","lkm":66},{"kk":"2003-07","sarja":"Muut","lkm":63},{"kk":"2003-11","sarja":"Muut","lkm":63},{"kk":"2004-01","sarja":"Muut","lkm":66},{"kk":"2004-02","sarja":"Muut","lkm":81},{"kk":"2004-03","sarja":"Muut","lkm":84},{"kk":"2004-05","sarja":"Muut","lkm":79},{"kk":"2004-09","sarja":"Muut","lkm":76},{"kk":"2004-11","sarja":"Muut","lkm":79},{"kk":"2005-02","sarja":"Muut","lkm":87},{"kk":"2005-03","sarja":"Muut","lkm":63},{"kk":"2005-06","sarja":"Muut","lkm":66},{"kk":"2005-09","sarja":"Muut","lkm":63},{"kk":"2006-01","sarja":"Muut","lkm":58},{"kk":"2006-05","sarja":"Muut","lkm":55},{"kk":"2006-09","sarja":"Muut","lkm":60},{"kk":"2007-01","sarja":"Muut","lkm":61},{"kk":"2007-06","sarja":"Muut","lkm":66},{"kk":"2007-10","sarja":"Muut","lkm":70},{"kk":"2008-02","sarja":"Muut","lkm":69},{"kk":"2008-06","sarja":"Muut","lkm":63},{"kk":"2008-08","sarja":"Muut","lkm":74},{"kk":"2008-11","sarja":"Muut","lkm":74},{"kk":"2009-02","sarja":"Muut","lkm":76},{"kk":"2009-05","sarja":"Muut","lkm":84},{"kk":"2009-07","sarja":"Muut","lkm":71},{"kk":"2009-10","sarja":"Muut","lkm":66},{"kk":"2010-02","sarja":"Muut","lkm":66},{"kk":"2010-05","sarja":"Muut","lkm":61},{"kk":"2010-07","sarja":"Muut","lkm":56},{"kk":"2010-10","sarja":"Muut","lkm":51},{"kk":"2011-03","sarja":"Muut","lkm":51},{"kk":"2011-06","sarja":"Muut","lkm":58},{"kk":"2011-08","sarja":"Muut","lkm":69},{"kk":"2011-11","sarja":"Muut","lkm":61},{"kk":"2012-03","sarja":"Muut","lkm":63},{"kk":"2012-07","sarja":"Muut","lkm":65},{"kk":"2012-10","sarja":"Muut","lkm":58},{"kk":"2013-03","sarja":"Muut","lkm":56},{"kk":"2013-06","sarja":"Muut","lkm":58},{"kk":"2013-10","sarja":"Muut","lkm":48},{"kk":"2014-02","sarja":"Muut","lkm":56},{"kk":"2014-07","sarja":"Muut","lkm":48},{"kk":"2015-01","sarja":"Muut","lkm":48},{"kk":"2015-05","sarja":"Muut","lkm":49},{"kk":"2015-11","sarja":"Muut","lkm":51},{"kk":"2016-03","sarja":"Muut","lkm":48},{"kk":"2016-08","sarja":"Muut","lkm":53},{"kk":"2016-12","sarja":"Muut","lkm":58},{"kk":"2017-04","sarja":"Muut","lkm":65},{"kk":"2017-07","sarja":"Muut","lkm":60},{"kk":"2017-11","sarja":"Muut","lkm":58},{"kk":"2018-03","sarja":"Muut","lkm":53},{"kk":"2018-07","sarja":"Muut","lkm":56},{"kk":"2018-11","sarja":"Muut","lkm":49},{"kk":"2019-04","sarja":"Muut","lkm":48},{"kk":"2019-07","sarja":"Muut","lkm":49},{"kk":"2019-10","sarja":"Muut","lkm":53},{"kk":"2020-02","sarja":"Muut","lkm":55},{"kk":"2020-06","sarja":"Muut","lkm":48},{"kk":"2020-11","sarja":"Muut","lkm":45},{"kk":"2021-04","sarja":"Muut","lkm":45},{"kk":"2021-07","sarja":"Muut","lkm":51},{"kk":"2021-11","sarja":"Muut","lkm":52},{"kk":"2022-03","sarja":"Muut","lkm":48},{"kk":"2022-06","sarja":"Muut","lkm":40},{"kk":"2022-10","sarja":"Muut","lkm":35},{"kk":"2022-12","sarja":"Muut","lkm":32}
]},
"mark": {"type": "line", "strokeWidth": 4, "strokeJoin": "round", "strokeCap": "round"},
"encoding": {
"x": {"field": "kk", "type": "temporal",
"scale": {"type": "utc", "domain": [{"year": 1984, "month": 12, "date": 1, "utc": true}, {"year": 2023, "month": 4, "date": 1, "utc": true}]},
"axis": {"title": null,
"values": [{"year":1986,"month":8,"date":1,"utc":true},{"year":1988,"month":4,"date":1,"utc":true},{"year":1989,"month":12,"date":1,"utc":true},{"year":1991,"month":8,"date":1,"utc":true},{"year":1993,"month":4,"date":1,"utc":true},{"year":1994,"month":12,"date":1,"utc":true},{"year":1996,"month":8,"date":1,"utc":true},{"year":1998,"month":4,"date":1,"utc":true},{"year":1999,"month":12,"date":1,"utc":true},{"year":2001,"month":8,"date":1,"utc":true},{"year":2003,"month":4,"date":1,"utc":true},{"year":2004,"month":12,"date":1,"utc":true},{"year":2006,"month":8,"date":1,"utc":true},{"year":2008,"month":4,"date":1,"utc":true},{"year":2009,"month":12,"date":1,"utc":true},{"year":2011,"month":8,"date":1,"utc":true},{"year":2013,"month":4,"date":1,"utc":true},{"year":2014,"month":12,"date":1,"utc":true},{"year":2016,"month":8,"date":1,"utc":true},{"year":2018,"month":4,"date":1,"utc":true},{"year":2019,"month":12,"date":1,"utc":true},{"year":2021,"month":8,"date":1,"utc":true},{"year":2023,"month":4,"date":1,"utc":true}],
"labelExpr": "((utcyear(datum.value) - 1985) * 12 + utcmonth(datum.value) + 1) % 40 == 0 && utcyear(datum.value) < 2023 ? utcFormat(datum.value, '%YM%m') + '*' : ''",
"grid": true, "gridColor": "#9a9a9a", "gridWidth": 1.5, "ticks": false,
"domain": true, "domainColor": "#9a9a9a", "domainWidth": 1.5,
"labelFont": "Liberation Sans", "labelFontSize": 23, "labelColor": "#333333", "labelPadding": 7,
"labelOverlap": false, "labelFlush": false, "labelBound": false}},
"y": {"field": "lkm", "type": "quantitative",
"scale": {"domain": [0, 800], "nice": false, "zero": true},
"axis": {"title": "Lkm", "titleAngle": 0, "titleAlign": "left", "titleBaseline": "alphabetic", "titleX": -25, "titleY": -20,
"titleFont": "Liberation Sans", "titleFontSize": 26, "titleFontWeight": "normal", "titleColor": "#333333",
"values": [0, 200, 400, 600, 800], "grid": true, "gridColor": "#9a9a9a", "gridWidth": 1.5, "ticks": false,
"domain": true, "domainColor": "#9a9a9a", "domainWidth": 1.5,
"labelFont": "Liberation Sans", "labelFontSize": 23, "labelColor": "#333333", "labelPadding": 5}},
"color": {"field": "sarja", "type": "nominal",
"scale": {"domain": ["Yhteensä", "Henkilöautolla", "Jalan tai pyörällä", "Muut"], "range": ["#0073b0", "#f07d00", "#a5068c", "#8e8ea7"]},
"legend": {"title": null, "orient": "none", "legendX": 25, "legendY": 730, "direction": "horizontal",
"symbolType": "stroke", "symbolSize": 1444, "symbolStrokeWidth": 4,
"labelFont": "Liberation Sans", "labelFontSize": 23, "labelColor": "#333333", "labelOffset": 11,
"columnPadding": 16, "labelLimit": 400, "padding": 0}}
},
"config": {"view": {"stroke": null}, "font": "Liberation Sans"}
}
